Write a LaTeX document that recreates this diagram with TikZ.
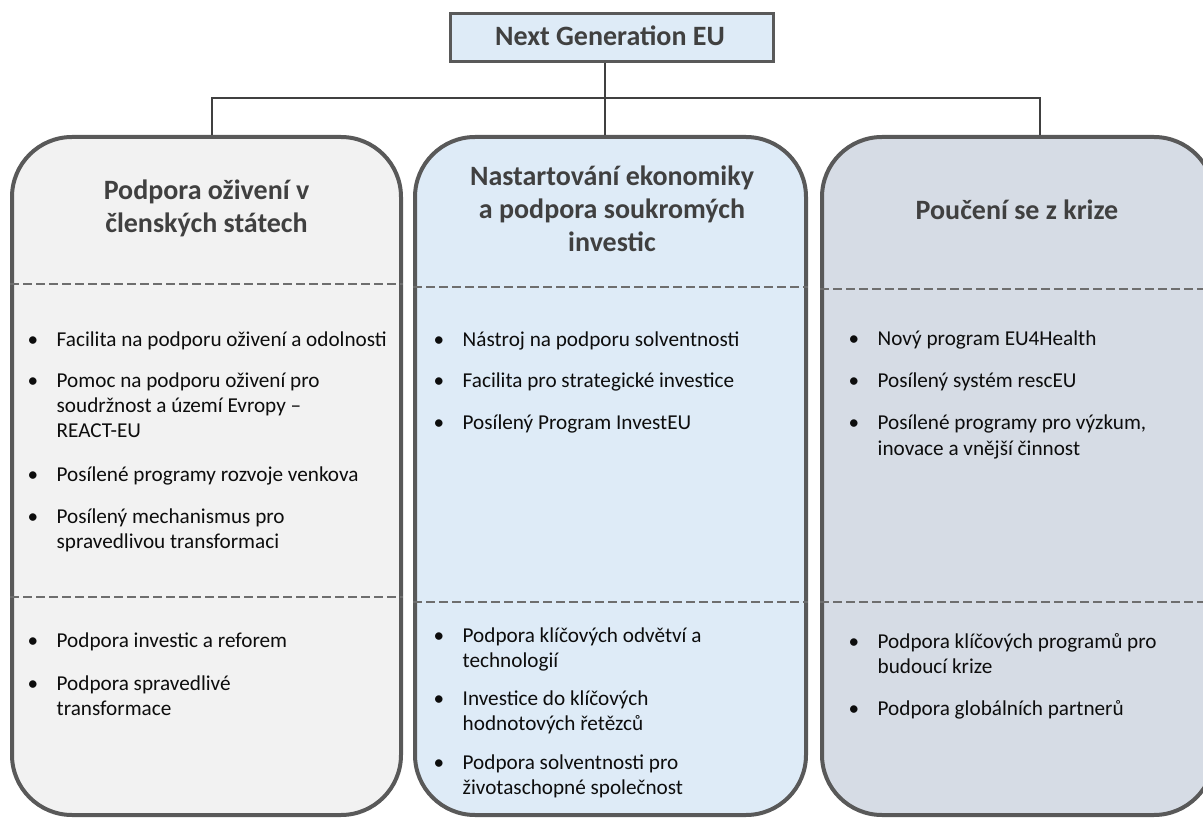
\documentclass[tikz,border=0pt]{standalone}
\usepackage{fontspec}
\setmainfont{Carlito}
\definecolor{bordc}{HTML}{595959}
\definecolor{dashc}{HTML}{6E6E6E}
\definecolor{connc}{HTML}{404040}
\definecolor{fillA}{HTML}{F2F2F2}
\definecolor{fillB}{HTML}{DEEBF7}
\definecolor{fillC}{HTML}{D6DCE5}
\definecolor{topfill}{HTML}{DEEBF7}
\definecolor{titc}{HTML}{404040}
\definecolor{txtc}{HTML}{0D0D0D}
\newcommand\bitem[1]{\makebox[29pt][l]{•}\parbox[t]{360pt}{\raggedright #1}}
\newcommand\ttlines[1]{\parbox[t]{380pt}{\centering #1}}
\begin{document}
\begin{tikzpicture}[x=1pt,y=-1pt,
  colbox/.style={draw=bordc, line width=4pt, rounded corners=60pt, minimum height=678pt, inner sep=0pt},
  topbox/.style={draw=bordc, line width=3pt, fill=topfill, minimum width=323pt, minimum height=48pt, inner sep=0pt},
  conn/.style={draw=connc, line width=1.4pt},
  dashline/.style={draw=dashc, line width=2.6pt, dash pattern=on 9pt off 4pt},
  ttl/.style={font=\bfseries\fontsize{28}{33}\selectfont, text=titc, anchor=base, inner sep=0pt},
  itm/.style={font=\fontsize{21.2}{25}\selectfont, text=txtc, anchor=base west, inner sep=0pt}]
\useasboundingbox (0,0) rectangle (1203,818);
\clip (0,0) rectangle (1203,818);

% column boxes
\node[colbox, fill=fillA, minimum width=389pt] (b1) at (206.5,476) {};
\node[colbox, fill=fillB, minimum width=391pt] (b2) at (610.5,476) {};
\node[colbox, fill=fillC, minimum width=392pt] (b3) at (1018,476) {};

% top box
\node[topbox] (top) at (611.5,37.5) {};
\node[font=\bfseries\fontsize{28}{32}\selectfont, text=titc, anchor=base, inner sep=0pt] (toptxt) at (610,46) {Next Generation EU};

% connectors
\coordinate (fork) at (605,98);
\coordinate (cl) at (212,98);
\coordinate (cr) at (1040,98);
\draw[conn] (top.south -| fork) -- (b2.north -| fork);
\draw[conn] (cl |- b1.north) -- (cl) -- (cr) -- (cr |- b3.north);

% dashed separators
\coordinate (u1) at (0,284);
\coordinate (u2) at (0,287);
\coordinate (u3) at (0,289);
\coordinate (w1) at (0,597);
\coordinate (w2) at (0,602);
\coordinate (w3) at (0,602);
\draw[dashline] (b1.west |- u1) -- (b1.east |- u1);
\draw[dashline] (b2.west |- u2) -- (b2.east |- u2);
\draw[dashline] (b3.west |- u3) -- (b3.east |- u3);
\draw[dashline] (b1.west |- w1) -- (b1.east |- w1);
\draw[dashline] (b2.west |- w2) -- (b2.east |- w2);
\draw[dashline] (b3.west |- w3) -- (b3.east |- w3);

% titles
\node[ttl] (t1) at (206.5,200) {\ttlines{Podpora oživení v\\členských státech}};
\node[ttl] (t2) at (612,186) {\ttlines{Nastartování ekonomiky\\a podpora soukromých\\investic}};
\node[ttl] (t3) at (1017,220) {\ttlines{Poučení se z krize}};

% left upper
\node[itm] (l1) at (27.5,347) {\bitem{Facilita na podporu oživení a odolnosti}};
\node[itm] (l2) at (27.5,388) {\bitem{Pomoc na podporu oživení pro\\soudržnost a území Evropy –\\REACT-EU}};
\node[itm] (l3) at (27.5,482) {\bitem{Posílené programy rozvoje venkova}};
\node[itm] (l4) at (27.5,523) {\bitem{Posílený mechanismus pro\\spravedlivou transformaci}};
% middle upper
\node[itm] (m1) at (433.5,347) {\bitem{Nástroj na podporu solventnosti}};
\node[itm] (m2) at (433.5,388) {\bitem{Facilita pro strategické investice}};
\node[itm] (m3) at (433.5,430) {\bitem{Posílený Program InvestEU}};
% right upper
\node[itm] (r1) at (848.5,346) {\bitem{Nový program EU4Health}};
\node[itm] (r2) at (848.5,388) {\bitem{Posílený systém rescEU}};
\node[itm] (r3) at (848.5,430) {\bitem{Posílené programy pro výzkum,\\inovace a vnější činnost}};
% left lower
\node[itm] (l5) at (27.5,647) {\bitem{Podpora investic a reforem}};
\node[itm] (l6) at (27.5,690) {\bitem{Podpora spravedlivé\\transformace}};
% middle lower
\node[itm] (m4) at (433.5,642) {\bitem{Podpora klíčových odvětví a\\technologií}};
\node[itm] (m5) at (433.5,705) {\bitem{Investice do klíčových\\hodnotových řetězců}};
\node[itm] (m6) at (433.5,769) {\bitem{Podpora solventnosti pro\\životaschopné společnost}};
% right lower
\node[itm] (r4) at (848.5,648) {\bitem{Podpora klíčových programů pro\\budoucí krize}};
\node[itm] (r5) at (848.5,715) {\bitem{Podpora globálních partnerů}};
\end{tikzpicture}
\end{document}
